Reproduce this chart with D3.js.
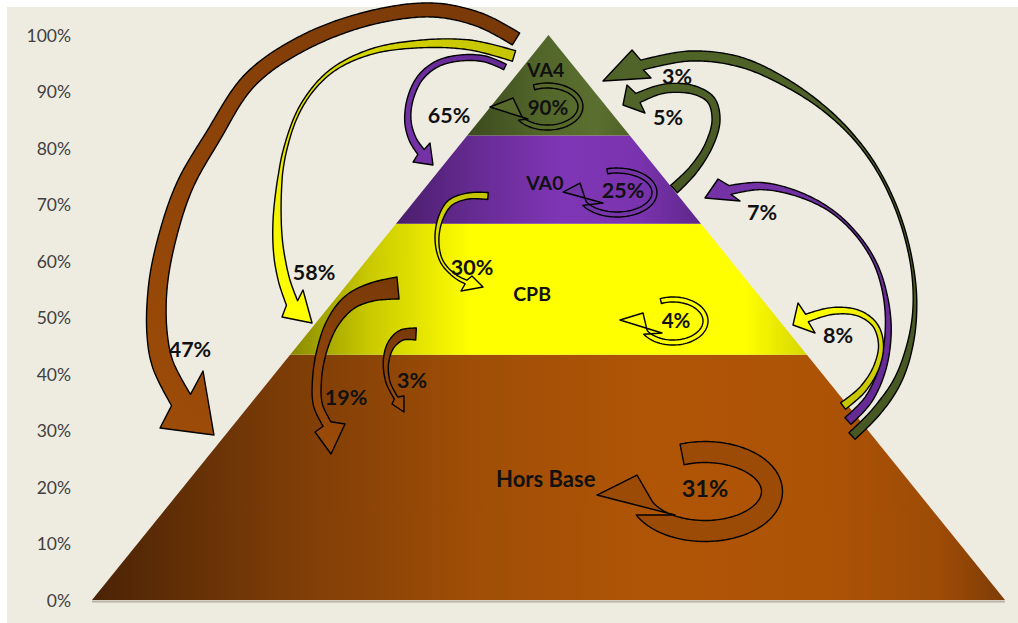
<!DOCTYPE html>
<html><head><meta charset="utf-8">
<script src="https://cdn.jsdelivr.net/npm/d3@7"></script>
<style>html,body{margin:0;padding:0;background:#fff;} svg{display:block;}</style>
</head><body>
<svg id="chart" width="1018" height="623"></svg>
<script>
// ---------------- data ----------------
const tiers = ["Hors Base", "CPB", "VA0", "VA4"];
const tierShares = [43.4, 23.2, 15.6, 17.8];           // % of height of pyramid
const yTicks = [0, 10, 20, 30, 40, 50, 60, 70, 80, 90, 100];
const yTickLabels = yTicks.map(d => d + "%");
const flowFrom   = ["VA4", "VA0", "CPB", "Hors Base", "VA4", "VA4", "VA4", "VA0", "CPB", "CPB", "Hors Base", "VA0", "Hors Base", "Hors Base"];
const flowTo     = ["VA4", "VA0", "CPB", "Hors Base", "VA0", "CPB", "Hors Base", "CPB", "Hors Base", "Hors Base", "VA4", "VA4", "VA0", "CPB"];
const flowValues = [90, 25, 4, 31, 65, 58, 47, 30, 19, 3, 3, 5, 7, 8];

// ---------------- layout (data units: x = % of base width, y = %) ----------------
const tierLabelPos = [[49.7, 20.0], [48.2, 52.9], [49.6, 72.6], [49.7, 92.6]];
const tierLabelSize = [22, 19.5, 19.5, 19.5];
const flowLabelPos = [
  [49.95, 85.84], [58.16, 71.15], [63.97, 48.14], [67.14, 18.23],
  [39.10, 84.42], [24.32, 56.64], [10.73, 43.01], [41.62, 57.52],
  [27.82, 34.51], [35.05, 37.52], [64.08, 91.33], [63.09, 84.07],
  [73.39, 67.26], [81.71, 45.49]
];
const flowLabelSize = [20.5, 21.5, 20.5, 23.5, 21.5, 21.5, 21.5, 21.5, 21.5, 21.5, 21.5, 21.5, 21.5, 21.5];
const flowShapes = [
  {loop: [49.89, 87.34, 3.61, 3.72, -114, 150], w: 5, tip: [43.59, 87.26], wings: [[46.11, 88.85], [47.76, 85.13]]},
  {loop: [57.50, 72.12, 4.11, 3.89, -105, 150], w: 5, tip: [51.59, 72.21], wings: [[53.45, 73.80], [55.97, 70.27]]},
  {loop: [63.64, 49.38, 3.56, 3.81, -112, 150], w: 5, tip: [57.83, 49.56], wings: [[60.35, 50.80], [62.43, 47.26]]},
  {loop: [67.14, 19.20, 7.34, 6.99, -110, 155], w: 21, tip: [55.31, 18.58], wings: [[59.69, 22.12], [63.86, 15.04]]},
  {pts: [[45.24,94.34],[43.05,95.75],[40.31,95.93],[37.79,94.87],[35.93,92.39],[34.83,88.50],[34.61,84.60],[35.16,81.42],[36.04,79.29]],
   w: [6,6,6,6,6,6,6,7,8], tip: [37.35, 76.99], wings: [[35.16, 77.52], [37.02, 80.88]]},
  {pts: [[46.22,96.28],[41.40,98.23],[35.93,98.41],[30.45,96.99],[26.07,93.45],[23.00,87.61],[21.14,79.65],[20.37,70.80],[20.37,62.83],[21.03,56.64],[21.91,52.57]],
   w: [11,10,8,6,4,3,3,4,8,11,12], tip: [24.10, 49.03], wings: [[20.81, 50.09], [23.11, 54.87]]},
  {pts: [[46.44,99.29],[42.50,102.65],[37.35,104.42],[30.45,103.01],[23.11,98.58],[17.31,92.04],[13.14,81.77],[10.19,73.45],[8.32,64.60],[7.23,55.75],[7.12,47.26],[7.78,41.59],[9.75,35.40]],
   w: [14,14,14,14,15,15,15,16,17,18,19,21,22], tip: [13.36, 29.20], wings: [[7.45, 30.44], [12.16, 40.53]]},
  {pts: [[43.37,71.50],[41.18,71.50],[39.21,70.27],[38.12,67.26],[37.79,63.36],[38.34,59.82],[39.76,57.34],[40.96,56.28]],
   w: [7,6,6,5,4,3,3,4], tip: [42.83, 55.40], wings: [[40.42, 54.69], [41.62, 57.34]]},
  {pts: [[33.52,55.22],[30.67,54.51],[28.26,52.74],[26.40,49.20],[25.19,44.25],[24.64,38.94],[24.75,34.51],[25.74,31.15]],
   w: [22,18,15,12,10,9,9,9], tip: [26.18, 25.84], wings: [[24.43, 29.73], [27.71, 31.15]]},
  {pts: [[35.49,47.08],[33.95,46.90],[32.75,45.13],[32.20,42.12],[32.42,38.58],[33.30,35.75]],
   w: [12,10,7,5,4,4], tip: [34.17, 33.27], wings: [[32.86, 34.69], [34.17, 36.11]]},
  {pts: [[83.24,29.03],[85.87,33.27],[88.28,38.94],[89.71,46.02],[90.14,53.10],[89.60,61.06],[87.95,69.91],[85.21,78.23],[81.38,85.31],[76.45,91.15],[70.98,95.22],[65.50,96.28],[60.24,94.69]],
   w: [9,9,7,4,2.5,2.5,2.5,3,5,8,10,10,10], tip: [55.97, 91.86], wings: [[59.15, 97.34], [61.23, 92.39]]},
  {pts: [[63.75,72.74],[65.83,76.11],[67.58,80.53],[68.35,84.96],[67.80,88.50],[65.94,90.26],[63.31,90.62],[61.67,90.09],[59.80,88.85]],
   w: [10,9,8,8,8,8,9,9,10], tip: [58.16, 87.61], wings: [[58.60, 91.15], [60.57, 86.19]]},
  {pts: [[82.80,31.68],[85.00,35.40],[86.53,40.71],[87.19,46.90],[86.97,53.10],[85.87,59.29],[83.79,64.60],[80.83,69.03],[77.00,72.04],[73.17,73.27],[69.88,72.57]],
   w: [9,8,7,6,4,3,2.5,3,5,7,9], tip: [67.14, 71.15], wings: [[68.57, 74.51], [70.98, 70.62]]},
  {pts: [[82.26,34.34],[84.34,37.17],[85.87,41.06],[86.42,45.13],[85.76,48.67],[83.90,50.80],[81.05,51.15],[78.31,49.91]],
   w: [8,7,6,5,5,6,7,8], tip: [76.78, 48.67], wings: [[77.33, 52.57], [79.19, 47.26]]}
];

// ---------------- styles ----------------
const tierGradients = {
  "Hors Base": [[0, "#4a2306"], [0.2, "#7a3b07"], [0.42, "#a04e06"], [0.62, "#b05506"], [0.8, "#ad5306"], [0.93, "#9d4b06"], [1, "#7e3c06"]],
  "CPB":       [[0, "#8a8a00"], [0.15, "#c8c800"], [0.35, "#ffff00"], [0.88, "#ffff00"], [1, "#d6d600"]],
  "VA0":       [[0, "#4a1e6c"], [0.3, "#6a2d98"], [0.55, "#7f36b6"], [0.8, "#7a33ae"], [1, "#5e278a"]],
  "VA4":       [[0, "#3c4a1e"], [0.45, "#52662a"], [0.8, "#5b6f30"], [1, "#4f6228"]]
};
const arrowGrad = {
  "Hors Base": ["#7a3a08", "#9c4b08"],
  "CPB": ["#c6c600", "#ffff00"],
  "VA0": ["#662a94", "#7432a6"],
  "VA4": ["#485823", "#506429"]
};
const loopFill = {"VA4": "#56692b", "VA0": "#7535a8", "CPB": "#ffff00", "Hors Base": "#9c4b07"};

// ---------------- scales ----------------
const W = 1018, H = 623;
const x = d3.scaleLinear().domain([0, 100]).range([92, 1005]);
const y = d3.scaleLinear().domain([0, 100]).range([600, 35]);
const P = d => [x(d[0]), y(d[1])];

const svg = d3.select("#chart");
const defs = svg.append("defs");

svg.append("rect").attr("x", 7).attr("y", 7).attr("width", W - 7).attr("height", H - 7).attr("fill", "#eeece1");

// ---------------- axis ----------------
const axis = d3.axisLeft(y).tickValues(yTicks).tickFormat((d, i) => yTickLabels[i]).tickSize(0).tickPadding(0);
const gAxis = svg.append("g").attr("transform", "translate(71,0)").call(axis);
gAxis.select(".domain").remove();
gAxis.selectAll("text").attr("x", 0).attr("dy", "0.35em")
  .style("font-family", "Lato, 'Open Sans', sans-serif").style("font-size", "17.5px").attr("fill", "#404040");

// ---------------- pyramid ----------------
const cum = d3.cumsum(tierShares);
const bands = tiers.map((t, i) => ({tier: t, v0: i ? cum[i - 1] : 0, v1: cum[i]}));
bands.forEach((b, i) => {
  const g = defs.append("linearGradient").attr("id", "band" + i).attr("x1", 0).attr("x2", 1).attr("y1", 0).attr("y2", 0);
  tierGradients[b.tier].forEach(s => g.append("stop").attr("offset", s[0]).attr("stop-color", s[1]));
});
// base shadow line
svg.append("line").attr("x1", x(0)).attr("x2", x(100)).attr("y1", y(0) + 1.5).attr("y2", y(0) + 1.5)
  .attr("stroke", "#b8b3a6").attr("stroke-width", 2);
svg.selectAll("path.band").data(bands).join("path").attr("class", "band")
  .attr("d", b => d3.line()([P([b.v0 / 2, b.v0]), P([100 - b.v0 / 2, b.v0]), P([100 - b.v1 / 2, b.v1]), P([b.v1 / 2, b.v1])]) + "Z")
  .attr("fill", (b, i) => `url(#band${i})`);

// ---------------- arrows ----------------
function arrowPath(ptsPx, widths, tipPx, wingsPx) {
  const tmp = svg.append("path").attr("d", d3.line().curve(d3.curveCatmullRom.alpha(0.5))(ptsPx)).attr("fill", "none");
  const node = tmp.node(), L = node.getTotalLength();
  const N = Math.max(40, Math.ceil(L / 2));
  const samp = d3.range(N + 1).map(i => { const p = node.getPointAtLength(L * i / N); return [p.x, p.y]; });
  tmp.remove();
  const wS = d3.scaleLinear().domain(widths.map((w, i) => i / (widths.length - 1))).range(widths).clamp(true);
  const Lf = [], Rt = [];
  samp.forEach((p, i) => {
    const a = samp[Math.max(0, i - 1)], b = samp[Math.min(N, i + 1)];
    let tx = b[0] - a[0], ty = b[1] - a[1]; const l = Math.hypot(tx, ty) || 1; tx /= l; ty /= l;
    const w = wS(i / N) / 2;
    Lf.push([p[0] - ty * w, p[1] + tx * w]); Rt.push([p[0] + ty * w, p[1] - tx * w]);
  });
  const end = samp[N];
  const cr = p => (end[0] - tipPx[0]) * (p[1] - tipPx[1]) - (end[1] - tipPx[1]) * (p[0] - tipPx[0]);
  const [w1, w2] = wingsPx;
  const pairA = (cr(w1) - cr(w2)) * (cr(Lf[N]) - cr(Rt[N])) >= 0;
  const wL = pairA ? w1 : w2, wR = pairA ? w2 : w1;
  const poly = [...Lf, wL, tipPx, wR, ...Rt.reverse()];
  return {d: d3.line()(poly) + "Z", start: samp[0]};
}

const gArrows = svg.append("g");
flowShapes.forEach((s, i) => {
  let ptsPx, widths;
  if (s.loop) {
    const [cx, cy, rx, ry, a0, a1] = s.loop;
    ptsPx = d3.range(a0, a1 + 0.1, 5).map(a => {
      const t = a * Math.PI / 180;
      return P([cx + rx * Math.cos(t), cy - ry * Math.sin(t)]);
    });
    widths = [s.w, s.w];
  } else {
    ptsPx = s.pts.map(P);
    widths = s.w;
  }
  const tip = P(s.tip);
  const res = arrowPath(ptsPx, widths, tip, s.wings.map(P));
  let fill;
  if (s.loop) fill = loopFill[flowTo[i]];
  else {
    const id = "ag" + i;
    const c = arrowGrad[flowTo[i]];
    const g = defs.append("linearGradient").attr("id", id).attr("gradientUnits", "userSpaceOnUse")
      .attr("x1", res.start[0]).attr("y1", res.start[1]).attr("x2", tip[0]).attr("y2", tip[1]);
    g.append("stop").attr("offset", 0).attr("stop-color", c[0]);
    g.append("stop").attr("offset", 1).attr("stop-color", c[1]);
    fill = `url(#${id})`;
  }
  gArrows.append("path").attr("d", res.d).attr("fill", fill)
    .attr("stroke", "#000").attr("stroke-width", 1.4).attr("stroke-linejoin", "round");
});

// ---------------- labels ----------------
const font = "Lato, 'Open Sans', sans-serif";
svg.append("g").selectAll("text").data(tiers).join("text")
  .attr("x", (d, i) => x(tierLabelPos[i][0])).attr("y", (d, i) => y(tierLabelPos[i][1]))
  .attr("text-anchor", "middle").style("font-family", font).style("font-weight", 700)
  .style("font-size", (d, i) => tierLabelSize[i] + "px").attr("fill", "#111").text(d => d);
svg.append("g").selectAll("text").data(flowValues).join("text")
  .attr("x", (d, i) => x(flowLabelPos[i][0])).attr("y", (d, i) => y(flowLabelPos[i][1]))
  .attr("text-anchor", "middle").style("font-family", font).style("font-weight", 700)
  .style("font-size", (d, i) => flowLabelSize[i] + "px").attr("fill", "#111").text(d => d + "%");
</script>
</body></html>
